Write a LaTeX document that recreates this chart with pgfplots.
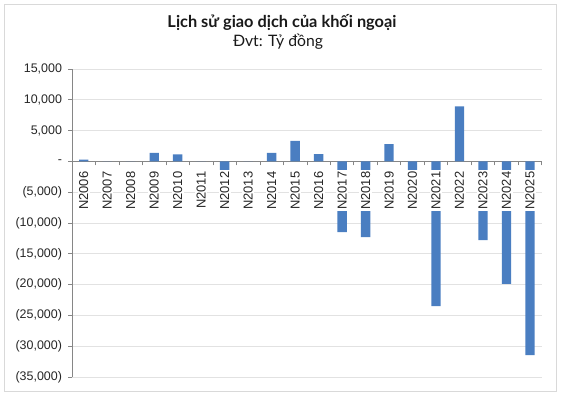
\documentclass[border=0pt]{standalone}
\usepackage{graphicx}
\usepackage{pgfplots}
\pgfplotsset{compat=1.18}
\usepackage{pgfplotstable}
\usepackage{fontspec}
\setmainfont{Liberation Sans}
\newfontfamily\titlefont{Lato}
\definecolor{barblue}{RGB}{74,126,193}
\definecolor{gridgray}{RGB}{226,226,226}
\definecolor{axisgray}{RGB}{134,134,134}
\definecolor{bordergray}{RGB}{217,217,217}
\pgfplotstableread{
x y
0 300
1 0
2 0
3 1400
4 1130
5 0
6 -2000
7 0
8 1400
9 3350
10 1200
11 -11500
12 -12300
13 2800
14 -2000
15 -23500
16 8950
17 -12800
18 -19900
19 -31450
}\datatable
\begin{document}
\begin{tikzpicture}
\begin{axis}[
 set layers,
 at={(0,0)}, anchor=south west,
 scale only axis, width=469.7bp, height=308bp,
 xmin=-0.5, xmax=19.5, ymin=-35000, ymax=15000,
 axis x line*=middle, axis y line*=left,
 axis line style={axisgray, line width=0.7bp},
 scaled y ticks=false,
 ytick={-35000,-30000,...,15000},
 yticklabels={{(35,000)},{(30,000)},{(25,000)},{(20,000)},{(15,000)},{(10,000)},{(5,000)},{-},{5,000},{10,000},{15,000}},
 xtick={0,...,19},
 xticklabels={N2006,N2007,N2008,N2009,N2010,N2011,N2012,N2013,N2014,N2015,N2016,N2017,N2018,N2019,N2020,N2021,N2022,N2023,N2024,N2025},
 minor xtick={-0.5,0.5,...,19.5},
 tick align=outside,
 major x tick style={draw=none},
 minor x tick style={axisgray, line width=0.7bp},
 y tick style={axisgray, line width=0.7bp},
 major tick length=3.5bp, minor tick length=4bp,
 ymajorgrids, grid style={gridgray, line width=0.7bp},
 xticklabel shift=5bp,
 yticklabel shift=3bp,
 xticklabel style={/pgfplots/on layer=axis foreground, rotate=90, anchor=east, fill=white, inner sep=1.5bp, font=\fontsize{13}{15}\selectfont, text=black!85},
 yticklabel style={font=\fontsize{12.5}{14}\selectfont, text=black!85},
]
\addplot[ybar, bar width=0.4, fill=barblue, draw=none, bar shift=0pt] table[x=x,y=y] {\datatable};
\end{axis}
\node[text=black!90] at (210bp,354bp) {\resizebox{229bp}{!}{\titlefont\bfseries Lịch sử giao dịch của khối ngoại}};
\node[text=black!90] at (206bp,335bp) {\resizebox{90bp}{!}{\titlefont Đvt: Tỷ đồng}};
\pgfresetboundingbox
\path[use as bounding box] (-72bp,-20bp) rectangle (489bp,377bp);
\draw[bordergray, line width=0.8bp] (-68bp,-14bp) rectangle (484bp,373bp);
\end{tikzpicture}
\end{document}
